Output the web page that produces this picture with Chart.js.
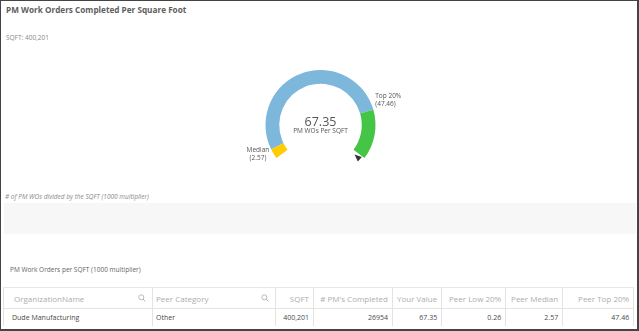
<!DOCTYPE html>
<html>
<head>
<meta charset="utf-8">
<script src="https://cdn.jsdelivr.net/npm/chart.js@4.4.0/dist/chart.umd.min.js"></script>
<style>
  html, body { margin: 0; padding: 0; background: #fff; }
  body { width: 639px; height: 331px; overflow: hidden; font-family: "Open Sans", sans-serif; }
  #frame { position: relative; width: 639px; height: 331px; box-sizing: border-box;
           border: 1px solid #444; border-right-width: 2px; border-bottom-width: 2px; }
  .abs { position: absolute; white-space: nowrap; }
  #title { left: 5px; top: 3px; font-size: 8.2px; font-weight: bold; color: #5e5e5e; }
  #sqft { left: 5px; top: 32px; font-size: 6.5px; color: #8a8a8a; }
  #chartBox { left: 0; top: 44px; width: 639px; height: 138px; }
  #note { left: 4px; top: 191px; font-size: 6.5px; font-style: italic; color: #8a8a8a; }
  #band { left: 3px; top: 202px; width: 632px; height: 31px; background: #f7f7f7; }
  #tableTitle { left: 9px; top: 264px; font-size: 6.5px; color: #666; }
  table { position: absolute; left: 2px; top: 286px; border-collapse: collapse; table-layout: fixed; }
  th, td { border: 1px solid #e3e3e3; padding: 0 4px; overflow: hidden; white-space: nowrap; }
  th { height: 20px; font-size: 8px; font-weight: normal; color: #adadad; border-top: 1px solid #e8e8e8; }
  td { height: 17px; font-size: 7px; color: #4a4a4a; border-bottom: none; }
  .r { text-align: right; }
  .l { text-align: left; }
  .search { float: right; margin-top: 1px; }
</style>
</head>
<body>
<div id="frame">
  <div id="title" class="abs">PM Work Orders Completed Per Square Foot</div>
  <div id="sqft" class="abs">SQFT: 400,201</div>
  <div id="chartBox" class="abs"><canvas id="gauge"></canvas></div>
  <div id="note" class="abs"># of PM WOs divided by the SQFT (1000 multiplier)</div>
  <div id="band" class="abs"></div>
  <div id="tableTitle" class="abs">PM Work Orders per SQFT (1000 multiplier)</div>
  <table id="grid"></table>
</div>
<script>
// gauge values
const gaugeMin = 0;
const gaugeMax = 60;
const yourValue = 67.35;
const low20Value = 0.26;
const medianValue = 2.57;
const top20Value = 47.46;
const segmentLabels = ['Median', 'Top 20%', 'Max'];
const segmentColors = ['#ffcc00', '#7db7db', '#45c545'];
const centerLabel = 'PM WOs Per SQFT';

// table
const tableHeaders = ['OrganizationName', 'Peer Category', 'SQFT', "# PM's Completed", 'Your Value', 'Peer Low 20%', 'Peer Median', 'Peer Top 20%'];
const tableSearchable = [true, true, false, false, false, false, false, false];
const columnWidths = [149, 123, 38, 79, 49, 64, 57, 71];
const tableRow = ['Dude Manufacturing', 'Other', '400,201', '26954', '67.35', '0.26', '2.57', '47.46'];

const searchIcon = '<svg class="search" width="8" height="8" viewBox="0 0 8 8">' +
    '<circle cx="3.3" cy="3.3" r="2.5" fill="none" stroke="#aaa" stroke-width="0.8"/>' +
    '<line x1="5.1" y1="5.1" x2="7.4" y2="7.4" stroke="#aaa" stroke-width="0.9"/></svg>';

document.addEventListener('DOMContentLoaded', function() {
    'use strict';

    // build the table
    const grid = document.getElementById('grid');
    let html = '<colgroup>' + columnWidths.map(w => '<col style="width:' + w + 'px">').join('') + '</colgroup><tr>';
    tableHeaders.forEach((h, i) => {
        if (tableSearchable[i]) {
            html += '<th class="l" style="padding-left:' + (i === 0 ? 10 : 3) + 'px;padding-right:6px">' + h + searchIcon + '</th>';
        } else {
            html += '<th class="r">' + h + '</th>';
        }
    });
    html += '</tr><tr>';
    tableRow.forEach((v, i) => {
        const cls = tableSearchable[i] ? 'l' : 'r';
        html += '<td class="' + cls + '" style="' + (i === 0 ? 'padding-left:8px' : (i === 1 ? 'padding-left:3px' : '')) + '">' + v + '</td>';
    });
    grid.innerHTML = html + '</tr>';

    const segments = [medianValue - gaugeMin, top20Value - medianValue, gaugeMax - top20Value];

    function angleFor(arc, v) {
        const total = arc.end - arc.start;
        const f = Math.max(0, Math.min(1, (v - gaugeMin) / (gaugeMax - gaugeMin)));
        return arc.start + f * total;
    }

    // center text, reference labels and pointer
    const gaugeDecor = {
        id: 'gaugeDecor',
        afterDatasetsDraw(chart) {
            const meta = chart.getDatasetMeta(0);
            const first = meta.data[0];
            const last = meta.data[meta.data.length - 1];
            const arc = { start: first.startAngle, end: last.endAngle };
            const cx = first.x, cy = first.y;
            const rOut = first.outerRadius, rIn = first.innerRadius;
            const ctx = chart.ctx;
            ctx.save();

            ctx.fillStyle = '#555';
            ctx.textAlign = 'center';
            ctx.textBaseline = 'alphabetic';
            ctx.font = '12.5px "Open Sans", sans-serif';
            ctx.fillText(yourValue.toFixed(2), cx, cy + 1);
            ctx.font = '6.5px "Open Sans", sans-serif';
            ctx.fillText(centerLabel, cx, cy + 8);

            const marks = [
                { name: 'Median', value: medianValue },
                { name: 'Top 20%', value: top20Value }
            ];
            const lineH = 8;
            marks.forEach(m => {
                const a = angleFor(arc, m.value);
                const px = cx + Math.cos(a) * (rOut + 2);
                const py = cy + Math.sin(a) * (rOut + 2);
                const lines = [m.name, '(' + m.value.toFixed(2) + ')'];
                const w = Math.max(...lines.map(t => ctx.measureText(t).width));
                const left = px < cx ? px - w : px;
                const top = py > cy ? py - 3 : py - lines.length * lineH;
                lines.forEach((t, i) => {
                    ctx.textAlign = px < cx ? 'center' : 'left';
                    ctx.textBaseline = 'top';
                    ctx.fillText(t, px < cx ? left + w / 2 : left, top + i * lineH);
                });
            });

            let a = angleFor(arc, yourValue);
            if (yourValue > gaugeMax) a += 0.07;
            const rMid = (rIn + rOut) / 2 + 1;
            const tipR = rMid - 4, baseR = rMid + 3;
            const tx = cx + Math.cos(a) * tipR, ty = cy + Math.sin(a) * tipR;
            const bx = cx + Math.cos(a) * baseR, by = cy + Math.sin(a) * baseR;
            const nx = -Math.sin(a) * 3, ny = Math.cos(a) * 3;
            ctx.fillStyle = '#333';
            ctx.beginPath();
            ctx.moveTo(tx, ty);
            ctx.lineTo(bx + nx, by + ny);
            ctx.lineTo(bx - nx, by - ny);
            ctx.closePath();
            ctx.fill();
            ctx.restore();
        }
    };

    const gaugeCtx = document.getElementById('gauge').getContext('2d');
    const gaugeChart = new Chart(gaugeCtx, {
        type: 'doughnut',
        data: {
            labels: segmentLabels,
            datasets: [{
                data: segments,
                backgroundColor: segmentColors,
                borderWidth: 0
            }]
        },
        options: {
            responsive: true,
            maintainAspectRatio: false,
            animation: false,
            rotation: -127,
            circumference: 254,
            radius: 55,
            cutout: '75%',
            layout: { padding: 0 },
            plugins: {
                legend: { display: false },
                tooltip: { enabled: false }
            }
        },
        plugins: [gaugeDecor]
    });
});
</script>
</body>
</html>
